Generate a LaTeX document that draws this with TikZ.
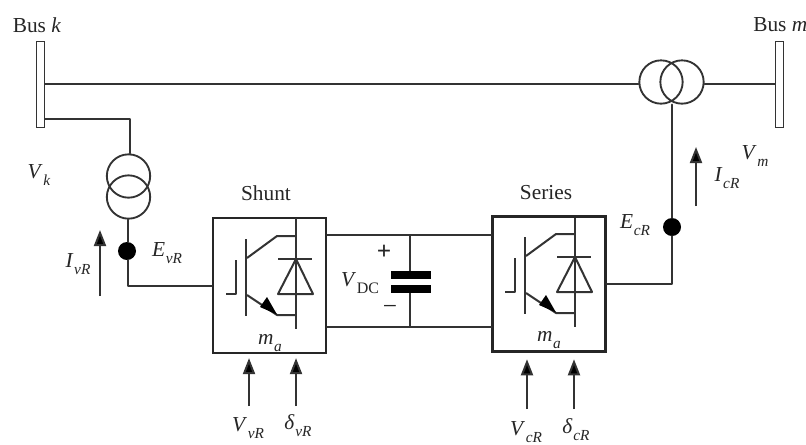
\documentclass[tikz,border=0pt]{standalone}
\usepackage{fontspec}
\setmainfont{Liberation Serif}
\usetikzlibrary{arrows.meta,calc}
\definecolor{ink}{HTML}{333333}
\newcommand{\symsub}[2]{\textit{#1}\kern0.5pt\raisebox{-0.32em}{\fontsize{11.5}{12}\selectfont\textit{#2}}}
\tikzset{
  x=0.75pt,y=-0.75pt,
  wire/.style={draw=ink,line width=1.7pt,line cap=round,line join=round},
  thin wire/.style={draw=ink,line width=1.4pt},
  busbar/.style={draw=ink,line width=1.2pt,fill=white,minimum width=6pt,minimum height=64.5pt,inner sep=0pt},
  coil/.style={circle,draw=ink,line width=1.4pt,minimum size=32.5pt,inner sep=0pt},
  conv/.style={draw=black!85,line width=1.9pt,minimum width=84.5pt,minimum height=101pt,inner sep=0pt},
  dot/.style={circle,fill=black,minimum size=13.5pt,inner sep=0pt},
  lab/.style={font=\fontsize{16}{18}\selectfont,text=black!85,inner sep=0pt},
  inarrow/.style={draw=ink,line width=1.5pt,-{Triangle[length=12pt,width=9pt,fill=black]}},
  platebar/.style={fill=black,minimum width=30pt,minimum height=5.4pt,inner sep=0pt},
  igbtline/.style={draw=ink,line width=1.5pt,line join=round},
}
\newcommand{\igbt}[3]{%
 \begin{scope}[shift={(#1,#2)}]
  \draw[igbtline] (236,260)--(236,294)--(226,294);
  \draw[igbtline] (246,239)--(246,316);
  \draw[igbtline] (247,258)--(277,236)--(296,236);
  \draw[igbtline] (247,295)--(277,315)--(296,315);
  \fill[black] (277,314.5)--(260,307)--(267,297)--cycle;
  \draw[igbtline] (296,#3)--(296,329);
  \draw[igbtline] (296,259)--(278,294)--(313,294)--cycle;
  \draw[igbtline] (278,259)--(312,259);
 \end{scope}}
\begin{document}
\begin{tikzpicture}
\useasboundingbox[fill=white] (0,0) rectangle (806,444);
% buses
\node[busbar] (busk) at (40.5,84.5) {};
\node[busbar] (busm) at (779.5,84.5) {};
% transformers
\node[coil] (tsa) at (128.5,176) {};
\node[coil] (tsb) at (128.5,197) {};
\node[coil] (tra) at (661,82) {};
\node[coil] (trb) at (682,82) {};
% converters
\node[conv] (shunt) at (269.5,285.5) {};
\node[conv] (series) at (549,284) {};
% dots
\node[dot] (dv) at (127,251) {};
\node[dot] (dc) at (672,227) {};
% capacitor
\node[platebar] (plt) at (411,275) {};
\node[platebar] (plb) at (411,289) {};
% connectors
\coordinate (jt) at (410,235);
\coordinate (jb) at (410,327);
\draw[wire] (busk.east |- 0,84) -- (tra.west |- 0,84);
\draw[wire] (trb.east |- 0,84) -- (busm.west |- 0,84);
\draw[wire] (busk.east |- 0,119) -- (130,119) -- (tsa.north -| 130,0);
\draw[wire] (tsb.south -| 128,0) -- (dv.north -| 128,0);
\draw[wire] (dv.south -| 128,0) -- (128,286) -- (shunt.west |- 0,286);
\draw[wire] (tra.south -| 672,0) -- (dc.north -| 672,0);
\draw[wire] (dc.south -| 672,0) -- (672,284) -- (series.east |- 0,284);
\draw[wire] (shunt.east |- 0,235) -- (series.west |- 0,235);
\draw[wire] (shunt.east |- 0,327) -- (series.west |- 0,327);
\draw[thin wire] (jt) -- (plt.north -| jt);
\draw[thin wire] (plb.south -| jb) -- (jb);
% switches
\igbt{0}{0}{218}
\igbt{279}{-2}{220}
% arrows
\coordinate (iv) at (100,296);
\coordinate (ivt) at (100,230);
\coordinate (ic) at (696,206);
\coordinate (ict) at (696,147);
\draw[inarrow] (iv) -- (ivt);
\draw[inarrow] (ic) -- (ict);
\coordinate (a1) at (249,406);
\coordinate (a2) at (296,406);
\coordinate (a3) at (527,409);
\coordinate (a4) at (574,409);
\draw[inarrow,shorten >=3pt] (a1) -- (shunt.south -| a1);
\draw[inarrow,shorten >=3pt] (a2) -- (shunt.south -| a2);
\draw[inarrow,shorten >=5pt] (a3) -- (series.south -| a3);
\draw[inarrow,shorten >=5pt] (a4) -- (series.south -| a4);
% labels
\node[lab] (lbk) at (37,25) {Bus \textit{k}};
\node[lab,anchor=west] (lbm) at (753,25) {Bus \textit{m}};
\node[lab] (lvk) at (39,175) {\symsub{V}{k}};
\node[lab] (lvm) at (755,156) {\symsub{V}{m}};
\node[lab] (lsh) at (266,193) {Shunt};
\node[lab] (lse) at (546,193) {Series};
\node[lab] (liv) at (78,264) {\symsub{I}{vR}};
\node[lab] (lev) at (167,253) {\symsub{E}{vR}};
\node[lab] (lec) at (635,225) {\symsub{E}{cR}};
\node[lab] (lic) at (727,178) {\symsub{I}{cR}};
\node[lab] (lvdc) at (360,283) {\textit{V}\kern0.5pt\raisebox{-0.3em}{\fontsize{12}{12}\selectfont DC}};
\node[lab,font=\fontsize{19}{19}\selectfont\bfseries] (lp) at (384,252) {+};
\node[lab,font=\fontsize{19}{19}\selectfont] (lm) at (390,310) {\textminus};
\node[lab] (lma) at (270,343) {\symsub{m}{a}};
\node[lab] (lmb) at (549,340) {\symsub{m}{a}};
\node[lab] (lvv) at (248,428) {\symsub{V}{vR}};
\node[lab] (ldv) at (298,426) {\symsub{δ}{vR}};
\node[lab] (lvc) at (526,432) {\symsub{V}{cR}};
\node[lab] (ldc) at (576,430) {\symsub{δ}{cR}};
\end{tikzpicture}
\end{document}
